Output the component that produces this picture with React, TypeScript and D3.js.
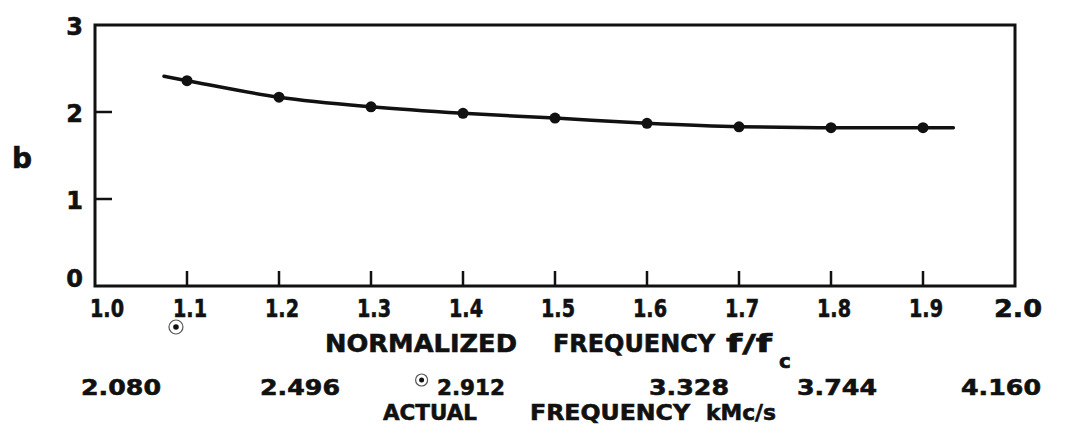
import React from "react";
import * as d3 from "d3";

// ---- data ----
const normTicks = [1.0, 1.1, 1.2, 1.3, 1.4, 1.5, 1.6, 1.7, 1.8, 1.9, 2.0];
const normTickLabels = ["1.0", "1.1", "1.2", "1.3", "1.4", "1.5", "1.6", "1.7", "1.8", "1.9", "2.0"];
const yTicks = [0, 1, 2, 3];
const yTickLabels = ["0", "1", "2", "3"];
const pointFreq = [1.1, 1.2, 1.3, 1.4, 1.5, 1.6, 1.7, 1.8, 1.9];
const pointB = [2.36, 2.17, 2.06, 1.985, 1.93, 1.87, 1.83, 1.82, 1.82];
const curveFreq = [1.075, 1.1, 1.2, 1.3, 1.4, 1.5, 1.6, 1.7, 1.8, 1.9, 1.933];
const curveB = [2.41, 2.36, 2.17, 2.06, 1.985, 1.93, 1.87, 1.83, 1.82, 1.82, 1.82];
const actualAt = [1.0, 1.2, 1.4, 1.6, 1.8, 2.0];
const actualLabels = ["2.080", "2.496", "2.912", "3.328", "3.744", "4.160"];

// ---- layout ----
const W = 1073;
const H = 434;
const FONT = "'DejaVu Sans', 'Liberation Sans', sans-serif";
const actualDx = [26, 21, 8, 42, 6, -14];
const INK = "#111";

export default function App() {
  const x = d3.scaleLinear().domain([1, 2]).range([95, 1015]);
  const y = d3.scaleLinear().domain([0, 3]).range([286, 25]);

  const curvePts: [number, number][] = curveFreq.map((f, i) => [f, curveB[i]]);
  const line = d3
    .line<[number, number]>()
    .x((d) => x(d[0]))
    .y((d) => y(d[1]))
    .curve(d3.curveMonotoneX);

  const textStroke = { stroke: INK, strokeWidth: 0.6 };

  return (
    <svg
      width={W}
      height={H}
      style={{ position: "absolute", left: 0, top: 0, background: "#fff" }}
      fontFamily={FONT}
      fontWeight="bold"
    >
      <rect x={0} y={0} width={W} height={H} fill="#fff" />
      {/* frame */}
      <rect
        x={x(1)}
        y={y(3)}
        width={x(2) - x(1)}
        height={y(0) - y(3)}
        fill="none"
        stroke={INK}
        strokeWidth={3}
      />
      {/* y ticks (inward) */}
      {yTicks
        .filter((v) => v > 0 && v < 3)
        .map((v) => (
          <line key={"yt" + v} x1={x(1)} x2={x(1) + 17} y1={y(v)} y2={y(v)} stroke={INK} strokeWidth={2.5} />
        ))}
      {/* x ticks (inward) */}
      {normTicks
        .filter((v) => v > 1 && v < 2)
        .map((v) => (
          <line key={"xt" + v} x1={x(v)} x2={x(v)} y1={y(0)} y2={y(0) - 15} stroke={INK} strokeWidth={2.5} />
        ))}
      {/* y tick labels */}
      {yTicks.map((v, i) => (
        <text
          key={"yl" + v}
          x={83}
          y={v === 0 ? y(v) + 1 : y(v) + 10}
          fontSize={24}
          textAnchor="end"
          fill={INK}
          {...textStroke}
        >
          {yTickLabels[i]}
        </text>
      ))}
      {/* y axis title */}
      <text x={12} y={168} fontSize={28} fill={INK} {...textStroke}>
        b
      </text>
      {/* x tick labels */}
      {normTicks.map((v, i) => (
        <text
          key={"xl" + v}
          x={x(v) + (i === 0 ? 12 : 3)}
          y={317}
          fontSize={24}
          textAnchor="middle"
          fill={INK}
          textLength={i === normTicks.length - 1 ? 48 : 34}
          lengthAdjust="spacingAndGlyphs"
          {...textStroke}
        >
          {normTickLabels[i]}
        </text>
      ))}
      {/* normalized axis title */}
      <text x={325} y={352} fontSize={25} fill={INK} textLength={192} lengthAdjust="spacingAndGlyphs" {...textStroke}>
        NORMALIZED
      </text>
      <text x={553} y={352} fontSize={25} fill={INK} textLength={162} lengthAdjust="spacingAndGlyphs" {...textStroke}>
        FREQUENCY
      </text>
      <text x={726} y={352} fontSize={25} fill={INK} textLength={46} lengthAdjust="spacingAndGlyphs" {...textStroke}>
        f/f
      </text>
      <text x={779} y={368} fontSize={20} fill={INK} {...textStroke}>
        c
      </text>
      {/* actual frequency labels */}
      {actualAt.map((v, i) => (
        <text
          key={"al" + v}
          x={x(v) + actualDx[i]}
          y={395}
          fontSize={22}
          textAnchor="middle"
          fill={INK}
          textLength={i === 2 ? 68 : 80}
          lengthAdjust="spacingAndGlyphs"
          {...textStroke}
        >
          {actualLabels[i]}
        </text>
      ))}
      <text x={383} y={420} fontSize={22} fill={INK} textLength={94} lengthAdjust="spacingAndGlyphs" {...textStroke}>
        ACTUAL
      </text>
      <text x={530} y={420} fontSize={22} fill={INK} textLength={160} lengthAdjust="spacingAndGlyphs" {...textStroke}>
        FREQUENCY
      </text>
      <text x={706} y={420} fontSize={22} fill={INK} textLength={70} lengthAdjust="spacingAndGlyphs" {...textStroke}>
        kMc/s
      </text>
      {/* registration marks */}
      <g stroke="#555" fill="none" strokeWidth={1.2}>
        <circle cx={x(1.088)} cy={327} r={7} />
        <circle cx={x(1.355)} cy={380} r={6} />
      </g>
      <circle cx={x(1.088)} cy={327} r={2.8} fill={INK} />
      <circle cx={x(1.355)} cy={380} r={2.5} fill={INK} />
      {/* fitted curve */}
      <path d={line(curvePts) || ""} fill="none" stroke={INK} strokeWidth={3.5} strokeLinecap="round" />
      {/* measured points */}
      {pointFreq.map((f, i) => (
        <circle key={"p" + f} cx={x(f)} cy={y(pointB[i])} r={5.5} fill={INK} />
      ))}
    </svg>
  );
}
